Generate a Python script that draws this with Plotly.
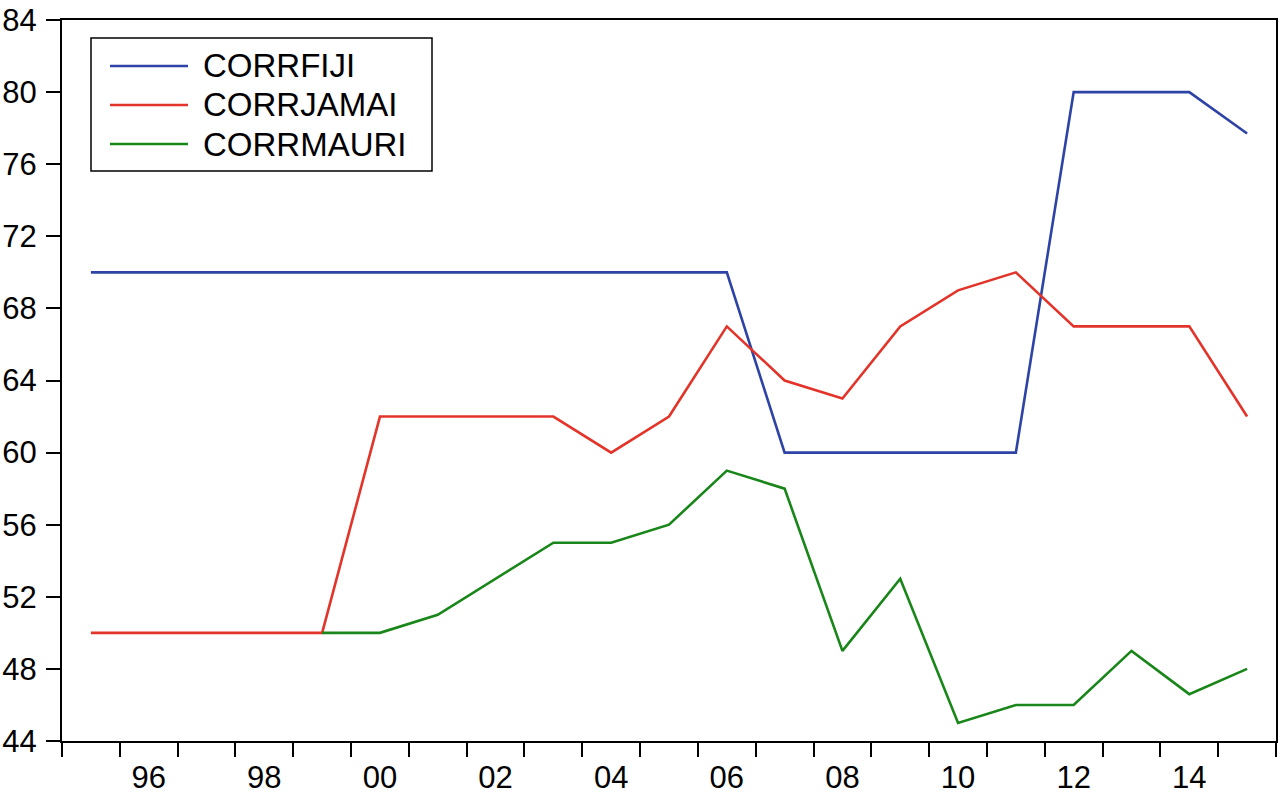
import plotly.graph_objects as go

years = list(range(1995, 2016))
corrfiji = [70, 70, 70, 70, 70, 70, 70, 70, 70, 70, 70, 70,
            60, 60, 60, 60, 60, 80, 80, 80, 77.7]
corrjamai = [50, 50, 50, 50, 50, 62, 62, 62, 62, 60, 62, 67,
             64, 63, 67, 69, 70, 67, 67, 67, 62]
corrmauri = [None, None, None, None, 50, 50, 51, 53, 55, 55, 56, 59,
             58, 49, 53, 45, 46, 46, 49, 46.6, 48]
names = ["CORRFIJI", "CORRJAMAI", "CORRMAURI"]
colors = ["#2d43a6", "#e3342a", "#198619"]
label_years = [1996, 1998, 2000, 2002, 2004, 2006, 2008, 2010, 2012, 2014]
label_text = ["96", "98", "00", "02", "04", "06", "08", "10", "12", "14"]
y_ticks = [44, 48, 52, 56, 60, 64, 68, 72, 76, 80, 84]

W, H = 1279, 800
L, R, T, B = 62, 1276, 20, 741
FONT = "Liberation Sans, Arial, sans-serif"


def px2paper(x, y):
    return (x - L) / (R - L), (B - y) / (B - T)


fig = go.Figure()
for name, vals, c in zip(names, [corrfiji, corrjamai, corrmauri], colors):
    fig.add_trace(go.Scatter(x=years, y=vals, name=name, mode="lines",
                             line=dict(color=c, width=2.6),
                             showlegend=False))

# hand-made legend box, EViews style
x0, y0 = px2paper(91, 38)
x1, y1 = px2paper(432, 171)
fig.add_shape(type="rect", xref="paper", yref="paper", x0=x0, y0=y0, x1=x1, y1=y1,
              line=dict(color="black", width=1.5), fillcolor="white", layer="above")
for i, (name, c) in enumerate(zip(names, colors)):
    ry = 66 + 39 * i
    lx0, ly = px2paper(110, ry)
    lx1, _ = px2paper(188, ry)
    fig.add_shape(type="line", xref="paper", yref="paper", x0=lx0, x1=lx1, y0=ly, y1=ly,
                  line=dict(color=c, width=2.6), layer="above")
    tx, _ = px2paper(201, ry)
    fig.add_annotation(xref="paper", yref="paper", x=tx, y=ly, text=name,
                       showarrow=False, xanchor="left", yanchor="middle",
                       font=dict(size=33, color="black", family=FONT))

fig.update_xaxes(range=[1994.5, 2015.5], tickmode="array", tickvals=label_years,
                 ticktext=label_text, ticks="", ticklabelstandoff=8,
                 automargin=False, showgrid=False, zeroline=False,
                 showline=True, linecolor="black", linewidth=2, mirror=True,
                 tickfont=dict(size=31, color="black", family=FONT),
                 minor=dict(tickmode="array",
                            tickvals=[y - 0.5 for y in years] + [2015.5],
                            ticks="outside", ticklen=14, tickwidth=2,
                            tickcolor="black", showgrid=False))
fig.update_yaxes(range=[44, 84], tickmode="array", tickvals=y_ticks,
                 ticks="outside", ticklen=14, tickwidth=2, tickcolor="black",
                 ticklabelstandoff=3, automargin=False,
                 showgrid=False, zeroline=False,
                 showline=True, linecolor="black", linewidth=2, mirror=True,
                 tickfont=dict(size=31, color="black", family=FONT))

fig.update_layout(width=W, height=H, plot_bgcolor="white", paper_bgcolor="white",
                  margin=dict(l=L, r=W - R, t=T, b=H - B),
                  font=dict(family=FONT, color="black"))

# drop the browser's default body margin so the figure sits at 0,0
fig.write_html("out.html", config={"displayModeBar": False},
               post_script="document.body.style.margin='0';")
